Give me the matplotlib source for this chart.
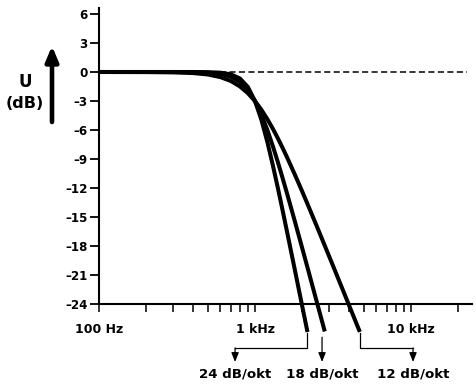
import matplotlib as mpl
import matplotlib.pyplot as plt

mpl.rcParams.update(
    {
        "font.family": ["DejaVu Sans"],
        "font.weight": "bold",
        "figure.facecolor": "white",
        "savefig.facecolor": "white",
    }
)

# --- data: frequency (Hz) and level (dB) per filter slope ---
freq_12 = [100, 200, 300, 400, 500, 600, 700, 800, 900, 1000, 1100, 1200, 1300, 1400,
           1500, 1600, 1800, 2000, 2200, 2500, 2800, 3200, 3600, 4000, 4500, 4700]
db_12 = [0, -0.01, -0.04, -0.11, -0.26, -0.53, -0.93, -1.49, -2.19, -3.01, -3.92, -4.88,
         -5.86, -6.85, -7.83, -8.78, -10.61, -12.3, -13.88, -16.03, -17.96, -20.25,
         -22.28, -24.1, -26.14, -26.89]

freq_18 = [100, 200, 300, 400, 500, 600, 700, 800, 900, 1000, 1100, 1200, 1300, 1400,
           1500, 1600, 1800, 2000, 2200, 2400, 2600, 2800]
db_18 = [0, 0, 0, -0.02, -0.07, -0.2, -0.48, -1.01, -1.85, -3.01, -4.43, -6.0, -7.65,
         -9.31, -10.93, -12.5, -15.44, -18.13, -20.58, -22.84, -24.91, -26.84]

freq_24 = [100, 200, 300, 400, 500, 600, 700, 800, 900, 1000, 1100, 1200, 1300, 1400,
           1500, 1600, 1800, 2000, 2170]
db_24 = [0, 0, 0, 0, -0.02, -0.07, -0.24, -0.67, -1.55, -3.01, -4.97, -7.24, -9.62,
         -11.97, -14.25, -16.43, -20.46, -24.1, -26.9]

y_ticks = [6, 3, 0, -3, -6, -9, -12, -15, -18, -21, -24]
x_ticks = [100, 200, 300, 400, 500, 600, 700, 800, 900,
           1000, 2000, 3000, 4000, 5000, 6000, 7000, 8000, 9000, 10000, 20000]
x_tick_labels = {100: "100 Hz", 1000: "1 kHz", 10000: "10 kHz"}

slope_labels = ["24 dB/okt", "18 dB/okt", "12 dB/okt"]
label_freqs = [745, 2690, 10300]  # where each label arrow points down

fig = plt.figure(figsize=(4.76, 3.87), dpi=100)
ax = fig.add_axes([99 / 476, 83 / 387, 373 / 476, 296 / 387])

ax.set_xscale("log")
ax.set_xlim(100, 24600)
ax.set_ylim(-24, 6.62)

# 0 dB reference
ax.hlines(0, 600, 23000, colors="black", linestyles=(0, (4, 2.2)), lw=1.1, zorder=1)

for f, d in [(freq_12, db_12), (freq_18, db_18), (freq_24, db_24)]:
    ax.plot(f, d, color="black", lw=2.9, solid_joinstyle="round",
            solid_capstyle="butt", clip_on=False, zorder=3)

# slope brackets below the axis
bk = dict(color="black", lw=0.9, clip_on=False)
y_bar, y_tip, y_txt = -28.55, -30.0, -31.2
arrow = dict(arrowstyle="-|>,head_length=0.55,head_width=0.22", color="black",
             lw=0.9, shrinkA=0, shrinkB=0)

# 24 dB/okt: down, then left
ax.plot([freq_24[-1], freq_24[-1], label_freqs[0]], [db_24[-1] - 0.1, y_bar, y_bar], **bk)
ax.annotate("", xy=(label_freqs[0], y_tip), xytext=(label_freqs[0], y_bar),
            arrowprops=arrow, annotation_clip=False)
# 18 dB/okt: straight down
ax.annotate("", xy=(label_freqs[1], y_tip), xytext=(label_freqs[1], db_18[-1] - 0.6),
            arrowprops=arrow, annotation_clip=False)
# 12 dB/okt: down, then right
ax.plot([freq_12[-1], freq_12[-1], label_freqs[2]], [db_12[-1] - 0.1, y_bar, y_bar], **bk)
ax.annotate("", xy=(label_freqs[2], y_tip), xytext=(label_freqs[2], y_bar),
            arrowprops=arrow, annotation_clip=False)

for lbl, f in zip(slope_labels, label_freqs):
    ax.text(f, y_txt, lbl, ha="center", va="center", fontsize=9.6,
            fontweight="bold", clip_on=False)

# axes styling
for s in ("top", "right"):
    ax.spines[s].set_visible(False)
for s in ("left", "bottom"):
    ax.spines[s].set_linewidth(1.5)

ax.set_yticks(y_ticks)
ax.set_yticklabels([str(v).replace("-", "\u2013") for v in y_ticks],
                   fontsize=8.6, fontweight="bold")
ax.set_xticks(x_ticks)
ax.set_xticklabels([x_tick_labels.get(v, "") for v in x_ticks],
                   fontsize=9, fontweight="bold")
ax.minorticks_off()
ax.tick_params(axis="y", direction="out", length=6.5, width=1.3, pad=1.5)
ax.tick_params(axis="x", direction="out", length=6, width=1.1, pad=7.5)

# y-axis caption with big arrow
fig.text(25 / 476, 1 - 82 / 387, "U", ha="center", va="center", fontsize=12,
         fontweight="bold")
fig.text(25 / 476, 1 - 103 / 387, "(dB)", ha="center", va="center", fontsize=11.5,
         fontweight="bold")
ax.annotate("", xy=(52, 387 - 46), xytext=(52, 387 - 122),
            xycoords="figure pixels", textcoords="figure pixels",
            arrowprops=dict(arrowstyle="-|>,head_length=0.9,head_width=0.38",
                            color="black", lw=3.3, shrinkA=0, shrinkB=0),
            annotation_clip=False)

fig.savefig("out.png", dpi=100)
